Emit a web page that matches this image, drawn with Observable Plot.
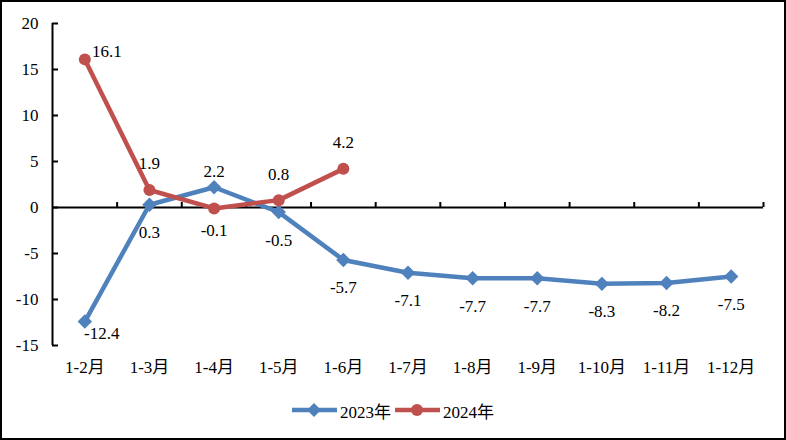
<!DOCTYPE html>
<html>
<head>
<meta charset="utf-8">
<script src="https://cdn.jsdelivr.net/npm/d3@7"></script>
<script src="https://cdn.jsdelivr.net/npm/@observablehq/plot@0.6"></script>
<style>
  html, body { margin: 0; padding: 0; background: white; }
  #frame { width: 786px; height: 440px; box-sizing: border-box; border: 2px solid black; background: white; position: relative; overflow: hidden; }
  #legend { height: 48px; display: flex; align-items: center; justify-content: center; font-family: "Liberation Serif", "Noto Sans CJK SC", serif; font-size: 17px; color: black; }
  .item { display: flex; align-items: center; margin: 0 2px; }
  .item svg { margin-right: 3px; }
  #chart svg text { font-family: "Liberation Serif", "Noto Sans CJK SC", serif; }
</style>
</head>
<body>
<div id="frame">
  <div id="chart"></div>
  <div id="legend"></div>
</div>
<script>
const categories = ["1-2月", "1-3月", "1-4月", "1-5月", "1-6月", "1-7月", "1-8月", "1-9月", "1-10月", "1-11月", "1-12月"];
const values2023 = [-12.4, 0.3, 2.2, -0.5, -5.7, -7.1, -7.7, -7.7, -8.3, -8.2, -7.5];
const values2024 = [16.1, 1.9, -0.1, 0.8, 4.2];
const yTicks = [-15, -10, -5, 0, 5, 10, 15, 20];
const seriesNames = ["2023年", "2024年"];

// ---- styling / rendering ----
const BLUE = "#4F81BD";
const RED = "#C0504D";
const FONT = '"Liberation Serif", "Noto Sans CJK SC", serif';

const rows2023 = values2023.map((v, i) => ({i, value: v}));
const rows2024 = values2024.map((v, i) => ({i, value: v}));

// label placement offsets (pixels)
function place2023(i) {
  if (i === 0) return [17, 12];
  if (i === 2) return [0, -16];
  return [0, 28];
}
function place2024(i) {
  if (i === 0) return [22, -8];
  if (i === 2) return [0, 22];
  return [0, -26];
}

const boundaries = categories.map((c, i) => i + 0.5);
const xMin = -0.5, xMax = categories.length - 0.5;

const chart = Plot.plot({
  width: 782,
  height: 384,
  marginLeft: 50,
  marginRight: 21,
  marginTop: 21,
  marginBottom: 41,
  style: {fontFamily: FONT, fontSize: "17px", color: "black", background: "white"},
  x: {domain: [xMin, xMax], axis: null},
  y: {domain: [d3.min(yTicks), d3.max(yTicks)], axis: null},
  marks: [
    Plot.ruleX([xMin], {y1: d3.min(yTicks), y2: d3.max(yTicks), stroke: "black", strokeWidth: 2}),
    Plot.ruleY(yTicks, {x1: xMin, x2: xMin, insetRight: -6, stroke: "black", strokeWidth: 2}),
    Plot.ruleY([0], {stroke: "black", strokeWidth: 2}),
    Plot.ruleX(boundaries, {y1: 0, y2: 0, insetBottom: 5, stroke: "black", strokeWidth: 2}),
    Plot.text(yTicks, {x: xMin, y: d => d, text: d => String(d), textAnchor: "end", dx: -14, fill: "black"}),
    Plot.text(categories, {x: (d, i) => i, y: d3.min(yTicks), dy: 22, text: d => d, fill: "black"}),
    Plot.line(rows2023, {x: "i", y: "value", stroke: BLUE, strokeWidth: 4.5}),
    Plot.dot(rows2023, {x: "i", y: "value", symbol: "diamond2", r: 6.5, fill: BLUE, stroke: "none"}),
    Plot.line(rows2024, {x: "i", y: "value", stroke: RED, strokeWidth: 4.5}),
    Plot.dot(rows2024, {x: "i", y: "value", r: 6, fill: RED, stroke: "none"}),
    ...rows2023.map(r => Plot.text([r], {x: "i", y: "value", text: d => d.value.toFixed(1), dx: place2023(r.i)[0], dy: place2023(r.i)[1], fill: "black"})),
    ...rows2024.map(r => Plot.text([r], {x: "i", y: "value", text: d => d.value.toFixed(1), dx: place2024(r.i)[0], dy: place2024(r.i)[1], fill: "black"}))
  ]
});
document.getElementById("chart").appendChild(chart);

// legend
const legend = document.getElementById("legend");
const legendSymbols = [
  {color: BLUE, shape: "diamond"},
  {color: RED, shape: "circle"}
];
seriesNames.forEach((name, k) => {
  const item = document.createElement("div");
  item.className = "item";
  const s = legendSymbols[k];
  const marker = s.shape === "diamond"
    ? `<path d="M22,2 L29,9 L22,16 L15,9 Z" fill="${s.color}"/>`
    : `<circle cx="22" cy="9" r="6" fill="${s.color}"/>`;
  item.innerHTML = `<svg width="45" height="18"><line x1="0" y1="9" x2="45" y2="9" stroke="${s.color}" stroke-width="4.5"/>${marker}</svg><span>${name}</span>`;
  legend.appendChild(item);
});
</script>
</body>
</html>
